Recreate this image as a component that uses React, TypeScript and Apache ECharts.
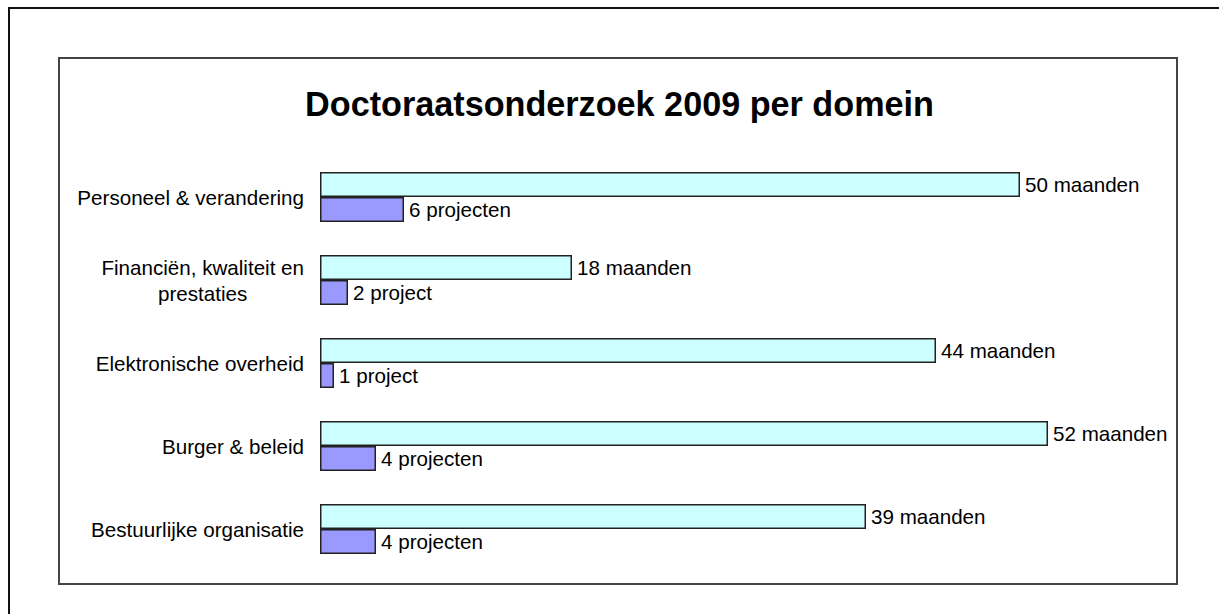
import React, { useEffect, useRef } from "react";
import * as echarts from "echarts";

const categories = [
  "Personeel & verandering",
  "Financiën, kwaliteit en\nprestaties",
  "Elektronische overheid",
  "Burger & beleid",
  "Bestuurlijke organisatie",
];
const months = [50, 18, 44, 52, 39];
const projects = [6, 2, 1, 4, 4];
const monthUnit = "maanden";
const projectUnits = ["projecten", "project", "project", "projecten", "projecten"];
const title = "Doctoraatsonderzoek 2009 per domein";

const FONT = "'Liberation Sans', Arial, sans-serif";

export default function App() {
  const ref = useRef<HTMLDivElement>(null);
  useEffect(() => {
    if (!ref.current) return;
    const chart = echarts.init(ref.current, null, { renderer: "svg" });
    chart.setOption({
      animation: false,
      backgroundColor: "#ffffff",
      title: {
        text: title,
        left: 614.5,
        textAlign: "center",
        top: 82,
        textStyle: { fontFamily: FONT, fontSize: 34.2, fontWeight: "bold", color: "#000" },
      },
      graphic: [
        {
          type: "rect",
          shape: { x: 9, y: 8, width: 1400, height: 800 },
          style: { fill: "none", stroke: "#111", lineWidth: 2 },
          silent: true,
          z: -10,
        },
        {
          type: "rect",
          shape: { x: 59, y: 58, width: 1118, height: 526 },
          style: { fill: "none", stroke: "#444", lineWidth: 2 },
          silent: true,
          z: -10,
        },
      ],
      grid: { left: 320, top: 155.5, height: 415, width: 840, containLabel: false },
      xAxis: { type: "value", min: 0, max: 60, show: false },
      yAxis: {
        type: "category",
        inverse: true,
        data: categories,
        axisLine: { show: false },
        axisTick: { show: false },
        splitLine: { show: false },
        axisLabel: {
          margin: 16,
          formatter: (v: string) =>
            v
              .split("\n")
              .map((line) => `{c|${line}}`)
              .join("\n"),
          rich: {
            c: { align: "center", fontFamily: FONT, fontSize: 20.6, color: "#000", lineHeight: 26 },
          },
        },
      },
      series: [
        {
          type: "bar",
          data: months,
          barWidth: 25,
          barGap: "0%",
          itemStyle: { color: "#CCFFFF", borderColor: "#222", borderWidth: 1.5 },
          label: {
            show: true,
            position: "right",
            distance: 5,
            formatter: (p: any) => `${p.value} ${monthUnit}`,
            fontFamily: FONT,
            fontSize: 20.6,
            color: "#000",
          },
        },
        {
          type: "bar",
          data: projects,
          barWidth: 25,
          barGap: "0%",
          itemStyle: { color: "#9999FF", borderColor: "#222", borderWidth: 1.5 },
          label: {
            show: true,
            position: "right",
            distance: 5,
            formatter: (p: any) => `${p.value} ${projectUnits[p.dataIndex]}`,
            fontFamily: FONT,
            fontSize: 20.6,
            color: "#000",
          },
        },
      ],
    });
    return () => chart.dispose();
  }, []);
  return (
    <div
      ref={ref}
      style={{ position: "absolute", left: 0, top: 0, width: 1219, height: 614, background: "#fff" }}
    />
  );
}
